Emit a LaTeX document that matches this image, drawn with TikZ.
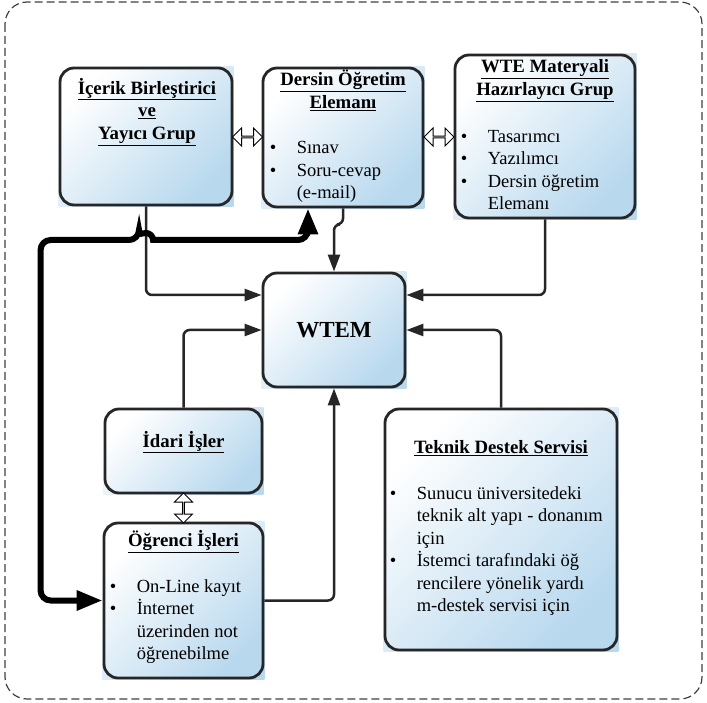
\documentclass[tikz,border=0pt]{standalone}
\usepackage{fontspec}
\setmainfont{Liberation Serif}
\usetikzlibrary{arrows.meta, positioning, shapes.arrows, backgrounds, calc}

\definecolor{boxblue}{HTML}{B8D8EE}
\definecolor{framegray}{HTML}{404040}

\newcommand\bodysize{\fontsize{18.5}{22.5}\selectfont}
\newcommand\headsize{\fontsize{18.8}{22.5}\selectfont}
\newcommand\bitem{\makebox[27pt][l]{\textbullet}}
\newcommand\bcont{\hspace*{27pt}}

\begin{document}
\begin{tikzpicture}[
    x=1pt, y=-1pt, % pixel-like coordinates, y downwards
    >={Triangle[length=17pt,width=12pt]}, % tip of the thin connectors
    box/.style={draw=black!85, line width=2.8pt, rounded corners=14pt, inner sep=0pt}, % rounded frame
    boxshade/.style={top color=white, middle color=boxblue!70, bottom color=boxblue, shading angle=45},
    title/.style={font=\headsize\bfseries, align=center, inner sep=0pt},
    list/.style={font=\bodysize, align=left, inner sep=0pt},
    conn/.style={black!85, line width=2.5pt, rounded corners=6pt}, % thin connector
    bigline/.style={black, line width=6pt, rounded corners=10pt,
        arrows={Triangle[length=26pt,width=19pt]-Triangle[length=26pt,width=19pt]}},
    dblarrow/.style={double arrow, draw, fill=white, line width=1pt, inner sep=0pt,
        minimum height=30pt, minimum width=18pt, double arrow head extend=4.5pt},
    frame/.style={framegray, line width=1.2pt, dash pattern=on 8pt off 4pt, rounded corners=22pt}
]

    \useasboundingbox (0,0) rectangle (707,703);

    % Outer dashed frame
    \draw[frame] (5,2) rectangle (702,699);

    % Boxes
    \node[box, minimum width=172pt, minimum height=137pt] (icerik) at (146,136.5) {};
    \node[box, minimum width=160pt, minimum height=139pt] (dersin) at (343,137.5) {};
    \node[box, minimum width=180pt, minimum height=163pt] (wte) at (545,136.5) {};
    \node[box, minimum width=142pt, minimum height=114pt] (wtem) at (334,330) {};
    \node[box, minimum width=157pt, minimum height=84pt] (idari) at (183.5,451) {};
    \node[box, minimum width=159pt, minimum height=155pt] (ogrenci) at (183.5,600.5) {};
    \node[box, minimum width=232pt, minimum height=241pt] (teknik) at (501,529.5) {};

    % Shading behind the boxes
    \begin{scope}[on background layer]
        \foreach \b in {icerik,dersin,wte,wtem,idari,ogrenci,teknik}
            \shade[boxshade] (\b.north west) rectangle (\b.south east);
    \end{scope}

    % Texts
    \node[title, anchor=north] (icerikTitle) at ([xshift=1pt,yshift=-11.5pt]icerik.north)
        {\underline{İçerik Birleştirici}\\\underline{ve}\\\underline{Yayıcı Grup}};
    \node[title, anchor=north] (dersinTitle) at ([yshift=-3.5pt]dersin.north)
        {\underline{Dersin Öğretim}\\\underline{Elemanı}};
    \node[list, anchor=north west] (dersinList) at ([xshift=8pt,yshift=-74.5pt]dersin.north west)
        {\bitem Sınav\\\bitem Soru-cevap\\\bcont(e-mail)};
    \node[title, anchor=north] (wteTitle) at ([yshift=-6pt]wte.north)
        {\underline{WTE Materyali}\\\underline{Hazırlayıcı Grup}};
    \node[list, anchor=north west] (wteList) at ([xshift=7pt,yshift=-76.5pt]wte.north west)
        {\bitem Tasarımcı\\\bitem Yazılımcı\\\bitem Dersin öğretim\\\bcont Elemanı};
    \node[font=\fontsize{23}{26}\selectfont\bfseries, inner sep=0pt] (wtemTitle) at (wtem.center) {WTEM};
    \node[title, anchor=base] (idariTitle) at ([yshift=4pt]idari.center) {\underline{İdari İşler}};
    \node[title, anchor=base] (ogrenciTitle) at ([yshift=-25pt]ogrenci.north) {\underline{Öğrenci İşleri}};
    \node[list, anchor=north west] (ogrenciList) at ([xshift=7pt,yshift=-57.5pt]ogrenci.north west)
        {\bitem On-Line kayıt\\\bitem İnternet\\\bcont üzerinden not\\\bcont öğrenebilme};
    \node[title, anchor=base] (teknikTitle) at ([yshift=-46pt]teknik.north) {\underline{Teknik Destek Servisi}};
    \node[list, anchor=north west] (teknikList) at ([xshift=6pt,yshift=-78.5pt]teknik.north west)
        {\bitem Sunucu üniversitedeki\\\bcont teknik alt yapı - donanım\\\bcont için\\
         \bitem İstemci tarafındaki öğ\\\bcont rencilere yönelik yardı\\\bcont m-destek servisi için};

    % Hollow double arrows
    \node[dblarrow] (icerikDersin) at ($(icerik.east)!0.5!(dersin.west)$) {};
    \node[dblarrow] (dersinWte) at ($(dersin.east)!0.5!(wte.west)$) {};
    \node[dblarrow, rotate=90] (idariOgrenci) at ($(idari.south)!0.5!(ogrenci.north)$) {};

    % Connectors into WTEM
    \draw[conn, ->] (icerik.south) |- ([yshift=35pt]wtem.west);
    \draw[conn, ->] (idari.north) |- (wtem.west);
    \draw[conn, ->] (wte.south) |- ([yshift=35pt]wtem.east);
    \draw[conn, ->] (teknik.north) |- (wtem.east);
    \draw[conn, ->] (ogrenci.east) -| (wtem.south);
    \draw[conn, ->] (dersin.south) -- ++(0,16) -| (wtem.north);

    % Thick line with a hop over the connector of icerik
    \coordinate (hop) at (icerik.south |- 0,240);
    \draw[bigline] (ogrenci.west) -- ++(-62,0) |- ([xshift=-7pt]hop)
        [sharp corners] arc[start angle=180, end angle=0, radius=7pt]
        [rounded corners=10pt] -| ([xshift=-35pt]dersin.south);

\end{tikzpicture}
\end{document}
